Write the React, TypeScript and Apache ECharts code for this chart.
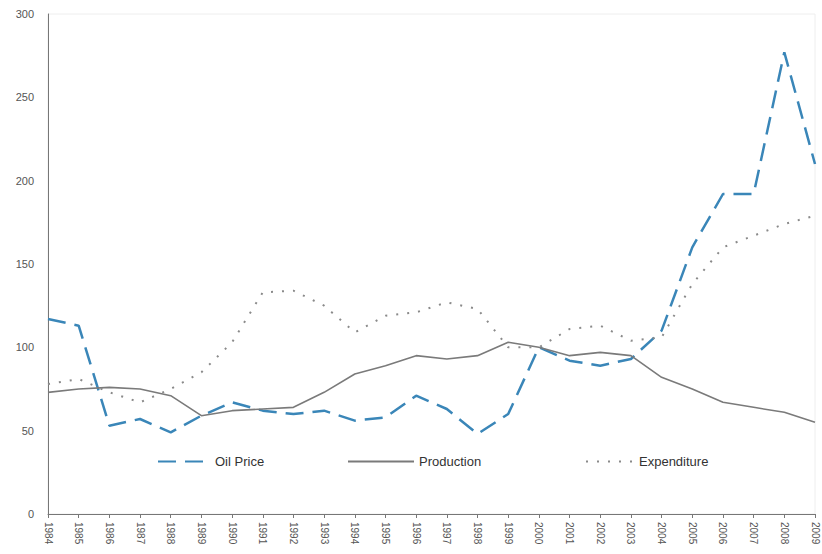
import React, { useEffect, useRef } from "react";
import * as echarts from "echarts";

const years = [
  "1984", "1985", "1986", "1987", "1988", "1989", "1990", "1991", "1992", "1993",
  "1994", "1995", "1996", "1997", "1998", "1999", "2000", "2001", "2002", "2003",
  "2004", "2005", "2006", "2007", "2008", "2009",
];
const oilPrice = [117, 113, 53, 57, 49, 59, 67, 62, 60, 62, 56, 58, 71, 63, 48, 60, 100, 92, 89, 93, 110, 160, 192, 192, 277, 210];
const production = [73, 75, 76, 75, 71, 59, 62, 63, 64, 73, 84, 89, 95, 93, 95, 103, 100, 95, 97, 95, 82, 75, 67, 64, 61, 55];
const expenditure = [78, 81, 73, 67, 75, 85, 103, 133, 134, 125, 109, 119, 121, 127, 123, 100, 100, 111, 113, 104, 106, 138, 160, 167, 174, 179];
const yTicks = { min: 0, max: 300, interval: 50 };

export default function App() {
  const ref = useRef<HTMLDivElement>(null);
  useEffect(() => {
    if (!ref.current) return;
    const chart = echarts.init(ref.current, undefined, { renderer: "svg" });
    const font = "Liberation Sans, Arial, sans-serif";
    const legendBase = {
      itemHeight: 10,
      itemGap: 6,
      itemStyle: { opacity: 0 },
      textStyle: { fontFamily: font, fontSize: 13, color: "#333" },
    };
    chart.setOption({
      animation: false,
      backgroundColor: "#ffffff",
      grid: { left: 48, right: 7, top: 14, bottom: 40, show: true, borderColor: "#eeeeee", borderWidth: 1 },
      legend: [
        { ...legendBase, data: ["Oil Price"], left: 152, top: 450, itemWidth: 52 },
        { ...legendBase, data: ["Production"], left: 342, top: 450, itemWidth: 66 },
        { ...legendBase, data: ["Expenditure"], left: 580, top: 450, itemWidth: 48 },
      ],
      xAxis: {
        type: "category",
        data: years,
        boundaryGap: false,
        axisLine: { lineStyle: { color: "#777", width: 1 } },
        axisTick: { show: true, length: 4, lineStyle: { color: "#777" } },
        axisLabel: { rotate: -90, fontFamily: font, fontSize: 10, color: "#555", margin: 8, interval: 0 },
        splitLine: { show: false },
      },
      yAxis: {
        type: "value",
        min: yTicks.min,
        max: yTicks.max,
        interval: yTicks.interval,
        axisLine: { show: true, lineStyle: { color: "#777", width: 1 } },
        axisTick: { show: false },
        axisLabel: { fontFamily: font, fontSize: 11, color: "#555", margin: 14 },
        splitLine: { show: false },
      },
      series: [
        {
          name: "Oil Price",
          type: "line",
          data: oilPrice,
          symbol: "none",
          color: "#3a86b8",
          lineStyle: { color: "#3a86b8", width: 2.5, type: [18, 9] },
        },
        {
          name: "Production",
          type: "line",
          data: production,
          symbol: "none",
          color: "#7a7a7a",
          lineStyle: { color: "#7a7a7a", width: 1.6, type: "solid" },
        },
        {
          name: "Expenditure",
          type: "line",
          data: expenditure,
          symbol: "none",
          color: "#8a8a8a",
          lineStyle: { color: "#8a8a8a", width: 2, type: [2, 9] },
        },
      ],
    });
    return () => chart.dispose();
  }, []);
  return <div ref={ref} style={{ width: 822, height: 554, position: "absolute", left: 0, top: 0 }} />;
}
